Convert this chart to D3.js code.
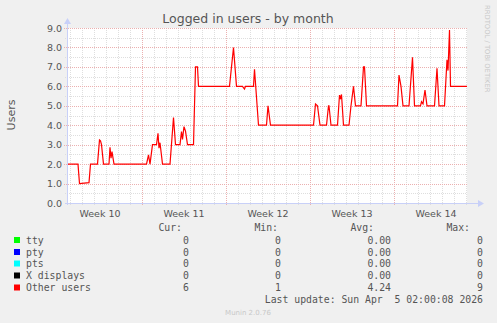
<!DOCTYPE html>
<html>
<head>
  <meta charset="utf-8">
  <title>Logged in users - by month</title>
  <script src="https://d3js.org/d3.v7.min.js"></script>
  <style>
    body { margin: 0; background: #f0f0f0; }
    text { font-family: "DejaVu Sans", sans-serif; fill: #555; }
    .mono { font-family: "DejaVu Sans Mono", monospace; white-space: pre; }
  </style>
</head>
<body>
<div id="chart"></div>
<script>

// Graph window: 800 hours ending at the last update
const endTime = Date.UTC(2026, 3, 5, 2, 0);
const startTime = endTime - 800 * 3600e3;

// "Other users" samples: hours since window start, and value
const hours = [0, 22, 25, 44, 47, 61, 65, 67, 69, 73, 84, 86, 88, 90, 94,
  159, 163, 166, 171, 179, 182, 184, 186, 191, 206, 213, 217, 226, 229, 231, 234, 237, 241,
  253, 257, 261, 263, 325, 329, 333, 339, 351, 355, 357, 373, 375, 383,
  399, 402, 407, 493, 497, 501, 506, 519, 523, 524, 528, 541, 545, 547, 549, 553,
  564, 568, 573, 577, 588, 593, 595, 599, 661, 664, 668, 672, 684, 691, 695,
  707, 709, 712, 716, 720, 735, 740, 744, 755, 760, 762, 765, 767, 800];
const users = [2, 2, 1, 1.05, 2, 2, 3.24, 3.2, 3.0, 2, 2, 2.86, 2.3, 2.64, 2,
  2, 2.47, 2, 3, 3, 3.58, 2.82, 3.1, 2, 2, 4.4, 3, 3, 3.67, 3.27, 3.93, 3.7, 3,
  3, 7, 7, 6, 6, 7, 8, 6, 6, 5.86, 6, 6, 6.88, 4,
  4, 5, 4, 4, 5.09, 5, 4, 4, 5, 5, 4, 4, 5.55, 5.4, 5.58, 4,
  4, 5, 6, 5, 5, 7, 7, 5, 5, 6.58, 6.0, 5, 5, 7.49, 5,
  5, 5.21, 5.1, 5.81, 5, 5, 6.93, 5, 5, 7.36, 6.81, 8.9, 6, 6];

const yTicks = [0, 1, 2, 3, 4, 5, 6, 7, 8, 9];

// Legend
const series = ["tty", "pty", "pts", "X displays", "Other users"];
const seriesColors = ["#00ff00", "#0000ff", "#00ffff", "#000000", "#ff0000"];
const curVals = ["0", "0", "0", "0", "6"];
const minVals = ["0", "0", "0", "0", "1"];
const avgVals = ["0.00", "0.00", "0.00", "0.00", "4.24"];
const maxVals = ["0", "0", "0", "0", "9"];

const W = 497, H = 323;
const plot = {left: 67, right: 467, top: 28, bottom: 203};

const svg = d3.select("#chart").append("svg")
  .attr("width", W).attr("height", H);

svg.append("rect").attr("width", W).attr("height", H).attr("fill", "#f0f0f0");
svg.append("rect")
  .attr("x", plot.left).attr("y", plot.top)
  .attr("width", plot.right - plot.left).attr("height", plot.bottom - plot.top)
  .attr("fill", "#ffffff");

const x = d3.scaleUtc()
  .domain([new Date(startTime), new Date(endTime)])
  .range([plot.left, plot.right]);
const y = d3.scaleLinear()
  .domain([0, 9])
  .range([plot.bottom, plot.top]);

// grid
const grid = svg.append("g").attr("shape-rendering", "crispEdges");
const days = d3.utcDay.range(new Date(startTime), new Date(endTime));
const weeks = d3.utcMonday.range(new Date(startTime), new Date(endTime));
const weekStarts = d3.utcMonday.range(d3.utcMonday.floor(new Date(startTime)), new Date(endTime));
const halfTicks = d3.range(0.5, 9, 1);

grid.selectAll(".vminor").data(days.filter(d => d.getUTCDay() !== 1)).join("line")
  .attr("x1", d => Math.round(x(d)) + 0.5).attr("x2", d => Math.round(x(d)) + 0.5)
  .attr("y1", plot.top).attr("y2", plot.bottom + 2)
  .attr("stroke", "#dedede").attr("stroke-dasharray", "1,1");
grid.selectAll(".hminor").data(halfTicks).join("line")
  .attr("x1", plot.left - 2).attr("x2", plot.right)
  .attr("y1", d => Math.round(y(d)) + 0.5).attr("y2", d => Math.round(y(d)) + 0.5)
  .attr("stroke", "#dedede").attr("stroke-dasharray", "1,1");
grid.selectAll(".vmajor").data(weeks).join("line")
  .attr("x1", d => Math.round(x(d)) + 0.5).attr("x2", d => Math.round(x(d)) + 0.5)
  .attr("y1", plot.top).attr("y2", plot.bottom + 3)
  .attr("stroke", "#ebb0b0").attr("stroke-dasharray", "1,1");
grid.selectAll(".hmajor").data(yTicks.slice(1)).join("line")
  .attr("x1", plot.left - 3).attr("x2", plot.right)
  .attr("y1", d => Math.round(y(d)) + 0.5).attr("y2", d => Math.round(y(d)) + 0.5)
  .attr("stroke", "#ebb0b0").attr("stroke-dasharray", "1,1");

// y labels
svg.append("g").selectAll("text").data(yTicks).join("text")
  .attr("x", 62).attr("y", d => y(d) + 3.5)
  .attr("text-anchor", "end").attr("font-size", 9.5)
  .text(d => d3.format(".1f")(d));

// x labels: centred mid-week (Thursday noon)
svg.append("g").selectAll("text").data(weekStarts).join("text")
  .attr("x", d => x(d3.utcHour.offset(d, 84)))
  .attr("y", 216.5)
  .attr("text-anchor", "middle").attr("font-size", 9.5)
  .text(d => "Week " + d3.utcFormat("%V")(d));

// line
const data = hours.map((h, i) => ({t: new Date(startTime + h * 3600e3), v: users[i]}));
svg.append("path")
  .datum(data)
  .attr("fill", "none")
  .attr("stroke", "#ff0000")
  .attr("stroke-width", 1.2)
  .attr("d", d3.line().x(d => x(d.t)).y(d => y(d.v)));

// axes with arrows
const axisColor = "#c8d0f8";
svg.append("line")
  .attr("x1", plot.left - 2).attr("x2", 478)
  .attr("y1", plot.bottom + 0.5).attr("y2", plot.bottom + 0.5)
  .attr("stroke", axisColor);
svg.append("line")
  .attr("x1", plot.left + 0.5).attr("x2", plot.left + 0.5)
  .attr("y1", plot.bottom + 2).attr("y2", 24)
  .attr("stroke", axisColor);
svg.append("path")
  .attr("d", `M478,${plot.bottom - 3} L484,${plot.bottom + 0.5} L478,${plot.bottom + 4} Z`)
  .attr("fill", axisColor);
svg.append("path")
  .attr("d", `M${plot.left - 3},24 L${plot.left + 0.5},18 L${plot.left + 4},24 Z`)
  .attr("fill", axisColor);

// title and labels
svg.append("text")
  .attr("x", 248).attr("y", 23)
  .attr("text-anchor", "middle").attr("font-size", 12.5)
  .style("fill", "#555")
  .text("Logged in users - by month");

svg.append("text")
  .attr("transform", "translate(15,115) rotate(-90)")
  .attr("text-anchor", "middle").attr("font-size", 11)
  .text("Users");

svg.append("text")
  .attr("transform", "translate(485,5) rotate(90)")
  .attr("text-anchor", "start").attr("font-size", 6.8)
  .style("fill", "#c8c8c8")
  .text("RRDTOOL / TOBI OETIKER");

// legend
const legend = svg.append("g");
const rowY = [240, 252, 263.5, 275.5, 287.5];
const fs = 9.8;
const headers = [["Cur:", 182], ["Min:", 278], ["Avg:", 374], ["Max:", 470]];
legend.selectAll(".hdr").data(headers).join("text")
  .attr("class", "mono")
  .attr("x", d => d[1]).attr("y", 231)
  .attr("text-anchor", "end").attr("font-size", fs)
  .text(d => d[0]);

legend.selectAll("rect").data(series).join("rect")
  .attr("x", 14).attr("y", (d, i) => rowY[i] - 3)
  .attr("width", 6).attr("height", 6)
  .attr("fill", (d, i) => seriesColors[i]);

legend.selectAll(".name").data(series).join("text")
  .attr("class", "mono")
  .attr("x", 26).attr("y", (d, i) => rowY[i] + 3.5)
  .attr("font-size", fs)
  .text(d => d);

const cols = [[curVals, 189], [minVals, 281], [avgVals, 391], [maxVals, 483]];
cols.forEach(([vals, cx]) => {
  legend.append("g").selectAll("text").data(vals).join("text")
    .attr("class", "mono")
    .attr("x", cx).attr("y", (d, i) => rowY[i] + 3.5)
    .attr("text-anchor", "end").attr("font-size", fs)
    .text(d => d);
});

svg.append("text")
  .attr("class", "mono")
  .attr("x", 483).attr("y", 302.5)
  .attr("text-anchor", "end").attr("font-size", fs)
  .text("Last update: Sun Apr  5 02:00:08 2026");

svg.append("text")
  .attr("x", 248).attr("y", 315)
  .attr("text-anchor", "middle").attr("font-size", 7)
  .style("fill", "#c8c8c8")
  .text("Munin 2.0.76");

</script>
</body>
</html>
